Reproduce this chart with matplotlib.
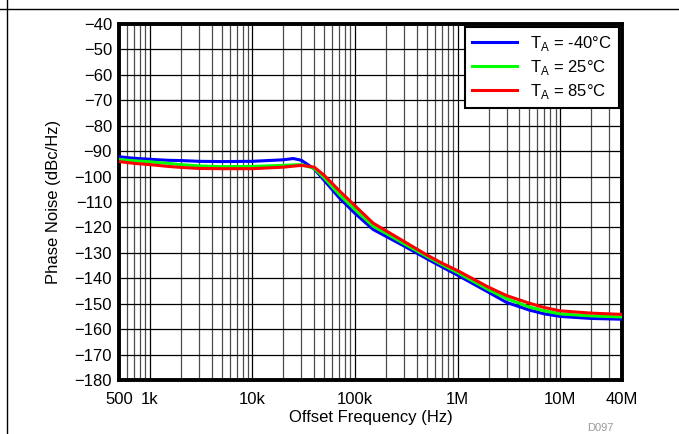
import matplotlib
matplotlib.use("Agg")
import matplotlib.pyplot as plt
from matplotlib.lines import Line2D
from matplotlib.ticker import FixedLocator, NullFormatter

plt.rcParams['font.family'] = ['Liberation Sans', 'DejaVu Sans']
plt.rcParams['mathtext.fontset'] = 'custom'
plt.rcParams['mathtext.rm'] = 'Liberation Sans'

# data
freq = [500, 700, 1e3, 1.5e3, 2e3, 3e3, 5e3, 1e4, 2e4, 2.5e4, 3e4, 4e4, 5e4, 7e4,
        1e5, 1.5e5, 2e5, 3e5, 5e5, 7e5, 1e6, 2e6, 3e6, 5e6, 7e6, 1e7, 2e7, 4e7]
pn_m40 = [-92.2, -92.8, -93.2, -93.6, -93.7, -94.0, -94.1, -94.0, -93.4, -92.9, -93.6, -97.0,
          -101.5, -108.3, -114.5, -120.8, -123.5, -127.3, -132.3, -135.5, -138.8, -145.5,
          -149.5, -152.5, -154.0, -155.0, -155.8, -156.1]
pn_25 = [-93.3, -93.8, -94.2, -94.8, -95.3, -95.8, -96.1, -96.0, -95.6, -95.4, -95.3, -96.8,
         -100.5, -107.0, -113.0, -119.5, -122.3, -126.4, -131.4, -134.6, -137.8, -144.5,
         -148.0, -151.3, -152.8, -154.0, -154.8, -155.2]
pn_85 = [-94.1, -94.8, -95.3, -96.0, -96.4, -96.8, -96.9, -96.9, -96.3, -95.9, -95.6, -96.3,
         -99.5, -105.5, -111.5, -118.3, -121.3, -125.5, -130.8, -134.0, -137.0, -143.5,
         -146.8, -149.8, -151.5, -152.8, -153.7, -154.2]
labels = [r'T$_\mathregular{A}$ = -40°C', r'T$_\mathregular{A}$ = 25°C', r'T$_\mathregular{A}$ = 85°C']
colors = ['#0000ff', '#00ff00', '#ff0000']

xticks = [500, 1e3, 1e4, 1e5, 1e6, 1e7, 4e7]
xticklabels = ['500', '1k', '10k', '100k', '1M', '10M', '40M']
yticks = list(range(-180, -39, 10))

fig = plt.figure(figsize=(6.79, 4.34), dpi=100)
ax = fig.add_axes([119/679, 1-380/434, 503/679, 356/434])

for y, lab, c in zip([pn_m40, pn_25, pn_85], labels, colors):
    ax.plot(freq, y, color=c, lw=2.2, label=lab, zorder=3)

ax.set_xscale('log')
ax.set_xlim(500, 4e7)
ax.set_ylim(-180, -40)

minors = [m * 10**e for e in range(2, 8) for m in range(2, 10) if 500 < m * 10**e < 4e7]
ax.xaxis.set_major_locator(FixedLocator(xticks))
ax.xaxis.set_minor_locator(FixedLocator(minors))
ax.xaxis.set_minor_formatter(NullFormatter())
ax.set_xticklabels(xticklabels)
ax.set_yticks(yticks)
ax.tick_params(which='both', length=0, labelsize=12)
ax.tick_params(axis='x', pad=9)
ax.tick_params(axis='y', pad=5)

ax.grid(True, which='major', color='black', lw=0.9)
ax.grid(True, which='minor', axis='x', color='0.3', lw=0.9)
for s in ax.spines.values():
    s.set_linewidth(2.8)

ax.set_xlabel('Offset Frequency (Hz)', fontsize=12, labelpad=2)
ax.set_ylabel('Phase Noise (dBc/Hz)', fontsize=12, labelpad=10)

leg = ax.legend(loc='upper right', fontsize=12, frameon=True, fancybox=False,
                handlelength=2.7, borderaxespad=0.2, labelspacing=0.3,
                handletextpad=0.8, borderpad=0.4)
leg.get_frame().set_edgecolor('black')
leg.get_frame().set_linewidth(1.5)
leg.get_frame().set_alpha(1)

# page frame lines and figure id
fig.add_artist(Line2D([0, 1], [1-9/434, 1-9/434], color='black', lw=1))
fig.add_artist(Line2D([7/679, 7/679], [0, 1], color='black', lw=1))
fig.text(600/679, 1-428/434, 'D097', fontsize=8, color='0.6', va='center', ha='center')

fig.savefig('out.png', dpi=100)
